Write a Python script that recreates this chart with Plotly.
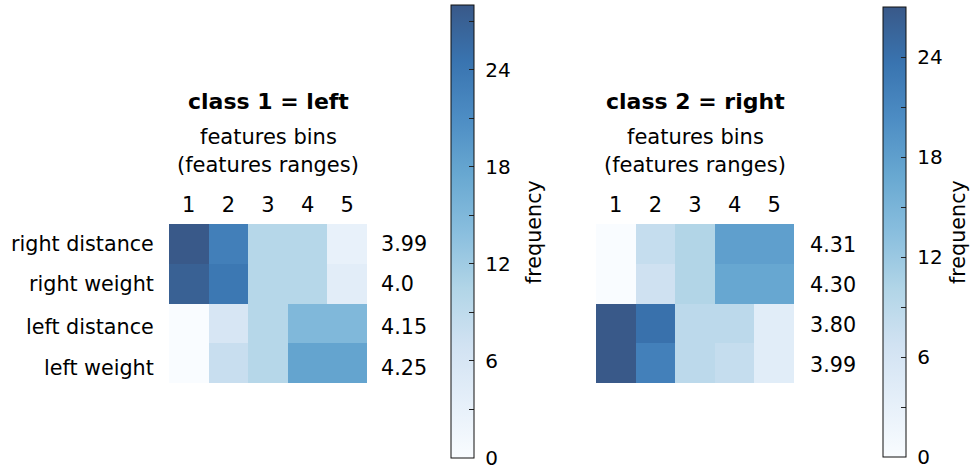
import plotly.graph_objects as go

W, H = 971, 466

# ---- data ----
bins = [1, 2, 3, 4, 5]
bin_labels = ["1", "2", "3", "4", "5"]
row_names = ["right distance", "right weight", "left distance", "left weight"]

class1_freq = [
    [28, 23, 10, 10, 3],
    [27, 24, 10, 10, 4],
    [0, 6, 10, 15, 15],
    [0, 8, 10, 18, 18],
]
class1_ranges = ["3.99", "4.0", "4.15", "4.25"]

class2_freq = [
    [0, 8, 10, 18, 18],
    [0, 7, 10, 17, 17],
    [27, 24, 9, 9, 4],
    [27, 22, 9, 8, 4],
]
class2_ranges = ["4.31", "4.30", "3.80", "3.99"]

cbar_tickvals = [0, 3, 6, 9, 12, 15, 18, 21, 24, 27]
cbar_ticktext = ["0", "", "6", "", "12", "", "18", "", "24", ""]

# ---- style ----
blues = ["#f7fbff", "#deebf7", "#c6dbef", "#9ecae1", "#6baed6",
         "#4292c6", "#2171b5", "#08519c", "#08306b"]
alpha = 0.8


def blend(hx):
    r, g, b = (int(hx[i:i + 2], 16) for i in (1, 3, 5))
    f = lambda c: round(alpha * c + (1 - alpha) * 255)
    return f"rgb({f(r)},{f(g)},{f(b)})"


cscale = [[i / (len(blues) - 1), blend(c)] for i, c in enumerate(blues)]

FONT = "DejaVu Sans"
TXT = "#000000"
PAD = "\u00a0"  # spacing between colorbar and its tick labels


def px_x(p):
    return p / W


def px_y(p):
    return 1 - p / H


fig = go.Figure()

panels = [
    dict(z=class1_freq, xa="x", ya="y", dom=(169, 367), cbx=451, cbtop=5, cbbot=458,
         title="class 1 = left", ranges=class1_ranges, rshift=12, rowlabels=True,
         freqx=534),
    dict(z=class2_freq, xa="x2", ya="y2", dom=(596, 794), cbx=883, cbtop=7, cbbot=457,
         title="class 2 = right", ranges=class2_ranges, rshift=14, rowlabels=False,
         freqx=958),
]

row_idx = list(range(len(row_names)))

for k, p in enumerate(panels):
    zmax = max(max(r) for r in p["z"])
    fig.add_trace(go.Heatmap(
        z=p["z"], x=bins, y=row_idx, xaxis=p["xa"], yaxis=p["ya"],
        colorscale=cscale, zmin=0, zmax=zmax, xgap=0, ygap=0,
        colorbar=dict(
            x=px_x(p["cbx"]), xanchor="left",
            y=px_y(p["cbbot"]), yanchor="bottom",
            len=p["cbbot"] - p["cbtop"], lenmode="pixels",
            thickness=23, thicknessmode="pixels",
            outlinewidth=1, outlinecolor="#111111",
            tickvals=cbar_tickvals,
            ticktext=[PAD + t if t else "" for t in cbar_ticktext],
            ticks="inside", ticklen=5, tickwidth=1, tickcolor="#222222",
            tickfont=dict(family=FONT, size=20, color=TXT),
            ticklabeloverflow="allow",
            ypad=0, xpad=0,
        ),
        hoverinfo="skip",
    ))
    sfx = "" if k == 0 else str(k + 1)
    fig.update_layout(**{
        "xaxis" + sfx: dict(
            domain=[px_x(p["dom"][0]), px_x(p["dom"][1])], anchor=p["ya"],
            range=[0.5, 5.5], side="top", tickvals=bins, ticktext=bin_labels,
            ticks="outside", ticklen=3, tickcolor="rgba(0,0,0,0)",
            tickfont=dict(family=FONT, size=21, color=TXT),
            showgrid=False, zeroline=False, showline=False, fixedrange=True,
        ),
        "yaxis" + sfx: dict(
            domain=[px_y(383), px_y(224)], anchor=p["xa"],
            range=[3.5, -0.5], showticklabels=False, ticks="",
            showgrid=False, zeroline=False, showline=False, fixedrange=True,
        ),
    })
    xd = p["xa"] + " domain"
    # titles
    fig.add_annotation(text="<b>" + p["title"] + "</b>", xref=xd, x=0.5, yref="paper",
                       y=px_y(102), showarrow=False, yanchor="middle",
                       font=dict(family=FONT, size=22, color=TXT))
    fig.add_annotation(text="features bins", xref=xd, x=0.5, yref="paper",
                       y=px_y(137), showarrow=False, yanchor="middle",
                       font=dict(family=FONT, size=21, color=TXT))
    fig.add_annotation(text="(features ranges)", xref=xd, x=0.5, yref="paper",
                       y=px_y(165), showarrow=False, yanchor="middle",
                       font=dict(family=FONT, size=21, color=TXT))
    # right-side range labels
    lshift = [0, 0, -4, -5] if p["rowlabels"] else [-1, -1, -2, -2]
    for i, lab in enumerate(p["ranges"]):
        fig.add_annotation(text=lab, xref=xd, x=1, xanchor="left", xshift=p["rshift"],
                           yref=p["ya"], y=row_idx[i], yshift=lshift[i], yanchor="middle",
                           showarrow=False, font=dict(family=FONT, size=20.7, color=TXT))
    if p["rowlabels"]:
        for i, lab in enumerate(row_names):
            fig.add_annotation(text=lab, xref=xd, x=0, xanchor="right", xshift=-13,
                               yref=p["ya"], y=row_idx[i], yshift=lshift[i], yanchor="middle",
                               showarrow=False, font=dict(family=FONT, size=20.7, color=TXT))
    # colorbar title
    fig.add_annotation(text="frequency", xref="paper", x=px_x(p["freqx"]), yref="paper",
                       y=px_y(232), textangle=-90, showarrow=False,
                       xanchor="center", yanchor="middle",
                       font=dict(family=FONT, size=20.7, color=TXT))

fig.update_layout(
    width=W, height=H, margin=dict(l=0, r=0, t=0, b=0),
    paper_bgcolor="white", plot_bgcolor="white",
    font=dict(family=FONT, color=TXT),
)

fig.write_html(
    "out.html",
    config={"displayModeBar": False},
    post_script="document.body.style.margin='0';document.body.style.overflow='hidden';",
)
